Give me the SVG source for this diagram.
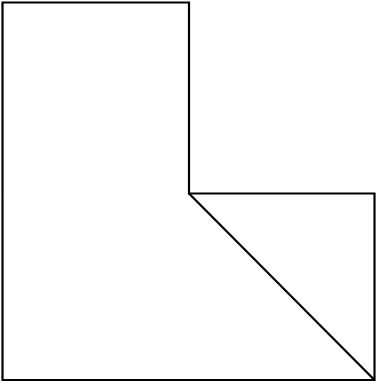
<svg xmlns="http://www.w3.org/2000/svg" width="383" height="383" viewBox="0 0 383 383">
<style>.s{fill:#fff;stroke:#000;stroke-width:2.2;stroke-linejoin:miter}</style>
<rect width="383" height="383" fill="#fff"/>
<g id="shape">
<polygon class="s" points="2.5,2.5 189,2.5 189,193.5 374.5,193.5 374.5,380 2.5,380"/>
<line class="s" x1="189" y1="193.5" x2="374.5" y2="380"/>
</g>
</svg>
